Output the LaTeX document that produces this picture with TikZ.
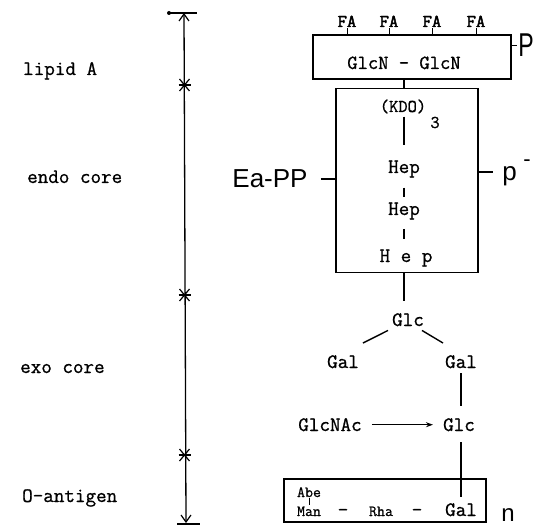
\documentclass[tikz,border=0pt]{standalone}
\usepackage{fontspec}
\newfontfamily\tw{Latin Modern Mono}[FakeBold=0.9]
\newfontfamily\twb{Latin Modern Mono}[FakeBold=2.6]
\newfontfamily\hw{Liberation Sans}
\usetikzlibrary{arrows.meta,calc}
\begin{document}
\begin{tikzpicture}[x=1pt,y=-1pt,
  tt/.style={font=\tw\fontsize{20.5}{22}\selectfont, inner sep=1pt, anchor=base},
  kd/.style={font=\tw\fontsize{18}{20}\selectfont, inner sep=1pt, anchor=base},
  fa/.style={font=\twb\fontsize{18}{20}\selectfont, inner sep=1pt, anchor=base},
  sm/.style={font=\tw\fontsize{15.5}{17}\selectfont, inner sep=1pt, anchor=base},
  hand/.style={font=\hw\fontsize{26}{28}\selectfont, inner sep=1pt, anchor=base},
  lab/.style={font=\tw\fontsize{20.5}{22}\selectfont, inner sep=0pt, anchor=base west},
  box/.style={draw, line width=1.6pt, inner sep=0pt},
  link/.style={line width=1.4pt},
  scaleline/.style={line width=1.3pt},
]
\useasboundingbox (0,0) rectangle (548,526);

% ---- left labels
\node[lab] (lipid) at (23,75) {lipid A};
\node[lab] (endolab) at (27,183) {endo core};
\node[lab] (exolab) at (20,373) {exo core};
\node[lab] (olab) at (22,502) {O-antigen};

% ---- scale bar
\coordinate (stop) at (184,13);
\coordinate (sbot) at (186,522);
\draw[scaleline] (stop) -- (sbot);
\draw[scaleline] (168,13) -- (197,13);
\fill (169,13) circle (2);
\draw[line width=1.2pt] (179,21) -- (184,14) -- (189,21);
\draw[scaleline] (177,524) -- (200,524);
\draw[line width=1.2pt] (181,515) -- (186,522) -- (191,515);
\foreach \yy/\nm in {85/ta,295/tb,455/tc}{
  \coordinate (\nm) at (184.5,\yy);
  \draw[line width=1.2pt] ($(\nm)+(-6,0)$) -- ($(\nm)+(6,0)$);
  \draw[line width=1.2pt] ($(\nm)+(-5,-6)$) -- (\nm) -- ($(\nm)+(5,-6)$);
  \draw[line width=1.2pt] ($(\nm)+(-5,6)$) -- (\nm) -- ($(\nm)+(5,6)$);
}

% ---- lipid A box
\node[box, minimum width=198, minimum height=44] (lipbox) at (412,57) {};
\node[tt, font=\tw\fontsize{20}{22}\selectfont] (glcn) at (404,69) {GlcN - GlcN};
\node[fa] (fa1) at (347,27) {FA};
\node[fa] (fa2) at (389,27) {FA};
\node[fa] (fa3) at (432,27) {FA};
\node[fa] (fa4) at (476,27) {FA};
\foreach \f in {fa1,fa2,fa3,fa4}{
  \draw[line width=1pt] (\f.south) -- (\f.south |- lipbox.north);
}
\node[hand, font=\hw\fontsize{33}{36}\selectfont] (P) at (526,57) {\scalebox{0.7}[1]{P}};
\draw[link] (P.west -| lipbox.east) -- (P.west);

% ---- endo core box
\node[box, minimum width=142, minimum height=184] (endo) at (407,180.5) {};
\node[kd] (kdo) at (403,112) {(KDO)};
\node[kd] (kdo3) at (435,128) {3};
\node[tt] (hep1) at (404,173) {Hep};
\node[tt] (hep2) at (404,215) {Hep};
\node[tt] (hep3) at (406,262) {H e p};
\draw[link] (hep1.north |- lipbox.south) -- (hep1.north |- endo.north);
\draw[link, shorten <=2pt, shorten >=14pt] (hep1.north |- kdo.south) -- (hep1.north);
\draw[link, shorten <=9pt, shorten >=4pt] (hep1.south) -- (hep2.north);
\draw[link, shorten <=8pt, shorten >=9pt] (hep2.south) -- (hep2.south |- hep3.north);

\node[hand] (eapp) at (270,188) {Ea-PP};
\draw[link, shorten <=12pt] (eapp.east) -- (eapp.east -| endo.west);
\node[hand] (pm) at (509.5,181) {p};
\node[hand, font=\hw\fontsize{22}{24}\selectfont] (pmsup) at (527,167) {-};
\draw[link] ($(endo.east)+(0,-8.5)$) -- ($(endo.east)+(14,-8.5)$);

% ---- exo core
\node[tt] (glc) at (408,326) {Glc};
\node[tt] (galL) at (343,368) {Gal};
\node[tt] (galR) at (461,368) {Gal};
\node[tt] (glcnac) at (330,431) {GlcNAc};
\node[tt] (glc2) at (459,431) {Glc};
\draw[link, shorten >=11pt] (hep2.south |- endo.south) -- (hep2.south |- glc.north);
\draw[link] ($(glc.south)+(-20,3)$) -- ($(galL.north)+(20,-11)$);
\draw[link] ($(glc.south)+(14,3)$) -- ($(galR.north)+(-18,-11)$);
\draw[link, shorten <=4pt, shorten >=11pt] (galR.south) -- (galR.south |- glc2.north);
\draw[link, -{Stealth[length=7pt,width=5pt]}, shorten <=9pt, shorten >=9pt] (glcnac.east) -- (glcnac.east -| glc2.west);

% ---- O-antigen box
\node[box, minimum width=202, minimum height=43] (obox) at (385,500.5) {};
\node[sm] (abe) at (309,497) {Abe};
\node[sm] (man) at (309,516) {Man};
\node[tt] (d1) at (343,516) {-};
\node[sm] (rha) at (381,516) {Rha};
\node[tt] (d2) at (417,516) {-};
\node[tt] (galO) at (461,516) {Gal};
\draw[line width=1pt] (abe.south) -- (man.north);
\draw[link, shorten <=10pt, shorten >=5pt] (galR.south |- glc2.south) -- (galR.south |- galO.north);
\node[hand, font=\hw\fontsize{24}{26}\selectfont] (nn) at (508,521) {n};
\end{tikzpicture}
\end{document}
